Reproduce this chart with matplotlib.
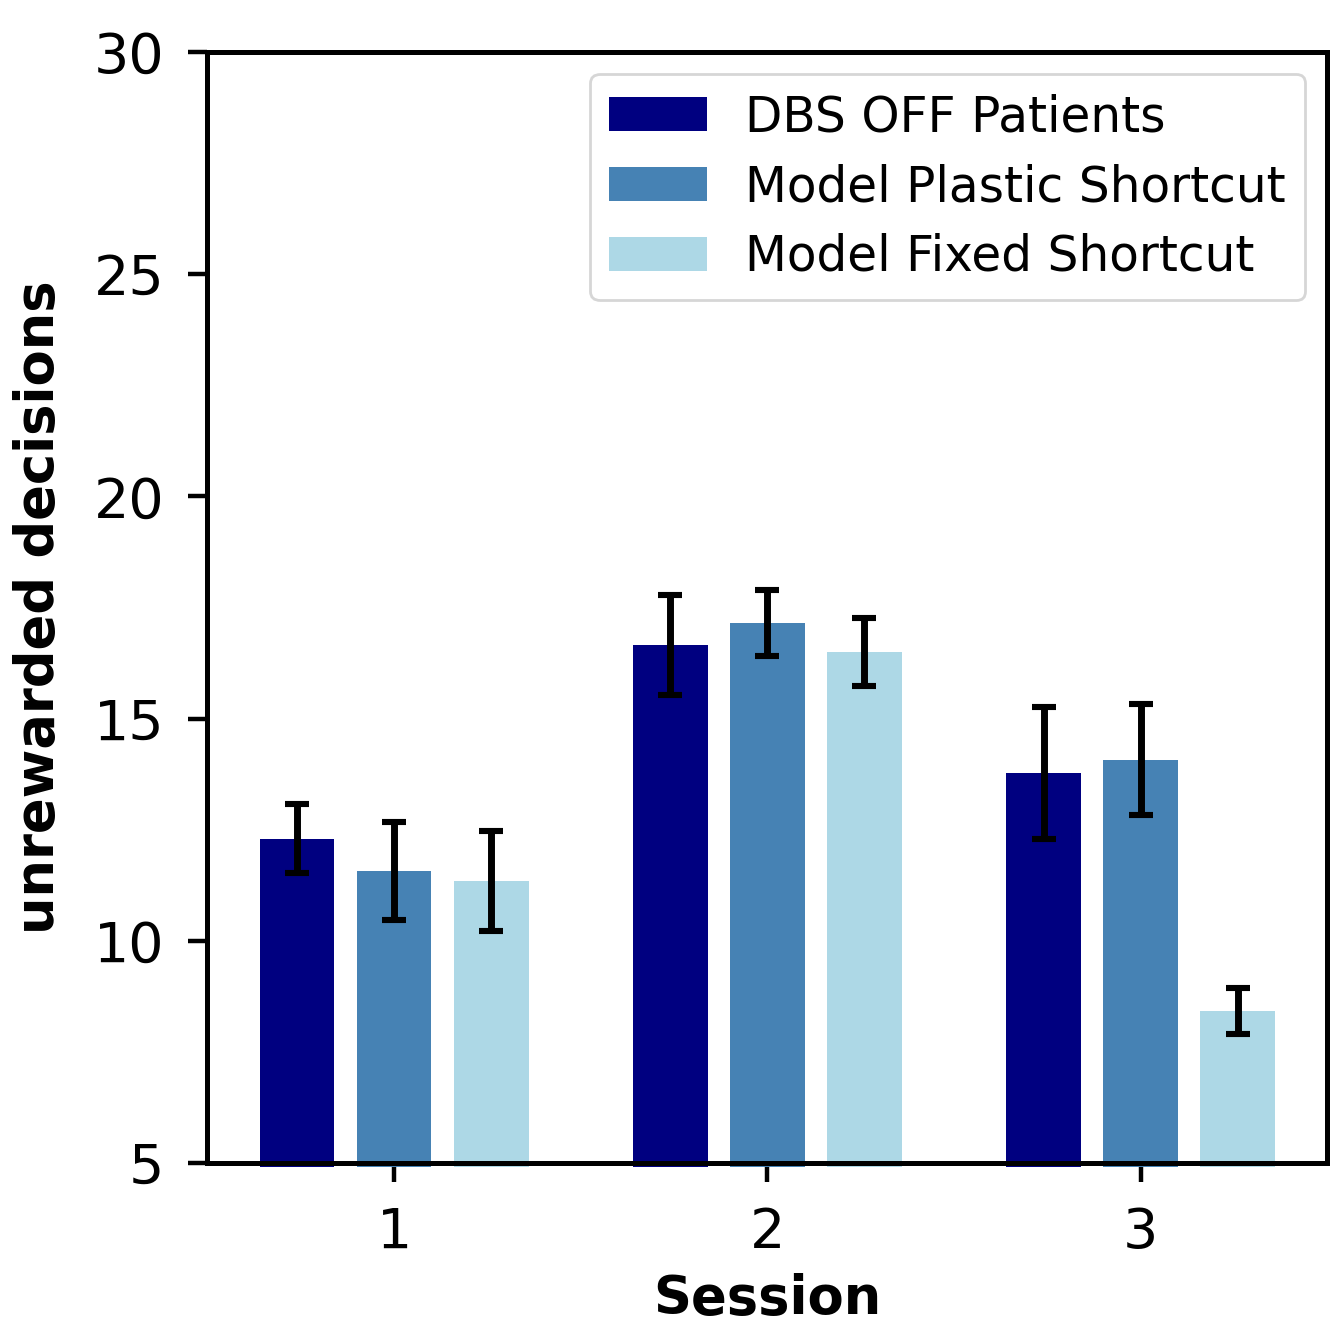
import matplotlib
matplotlib.use("Agg")
import matplotlib.pyplot as plt
import numpy as np

sessions = [1, 2, 3]
series_names = ["DBS OFF Patients", "Model Plastic Shortcut", "Model Fixed Shortcut"]
dbs_off = [12.3, 16.65, 13.78]
dbs_off_err = [0.78, 1.12, 1.48]
plastic = [11.57, 17.15, 14.07]
plastic_err = [1.1, 0.75, 1.25]
fixed = [11.35, 16.5, 8.42]
fixed_err = [1.12, 0.76, 0.52]
colors = ["#000080", "#4682B4", "#ADD8E6"]
y_ticks = [5, 10, 15, 20, 25, 30]

fig = plt.figure(figsize=(6.65, 6.65), dpi=200)
ax = fig.add_axes([0.156, 0.1256, 0.842, 0.8354])

x = np.array(sessions, dtype=float)
width = 0.2
offsets = [-0.26, 0.0, 0.26]
base = 4.92
for vals, errs, off, col, name in zip([dbs_off, plastic, fixed],
                                      [dbs_off_err, plastic_err, fixed_err],
                                      offsets, colors, series_names):
    vals = np.array(vals)
    ax.bar(x + off, vals - base, width=width, bottom=base, color=col,
           label=name, clip_on=False, zorder=2)
    ax.errorbar(x + off, vals, yerr=errs, fmt='none', ecolor='black',
                elinewidth=2.5, capsize=4.2, capthick=2.2, zorder=3)

ax.set_xlim(0.5, 3.5)
ax.set_ylim(5, 30)
ax.set_yticks(y_ticks)
ax.set_xticks(sessions)
ax.tick_params(axis='both', labelsize=20, width=1.6, length=7, pad=8.5)
for s in ax.spines.values():
    s.set_linewidth(1.8)
    s.set_zorder(4)
ax.set_xlabel("Session", fontsize=19, fontweight='bold', labelpad=4.5)
ax.set_ylabel("unrewarded decisions", fontsize=19, fontweight='bold', labelpad=10.5)
ax.legend(loc='upper right', fontsize=17.5, borderpad=0.4, handlelength=2.0,
          handleheight=0.7, handletextpad=0.8, labelspacing=0.45,
          borderaxespad=0.45)

fig.savefig("out.png", dpi=200)
